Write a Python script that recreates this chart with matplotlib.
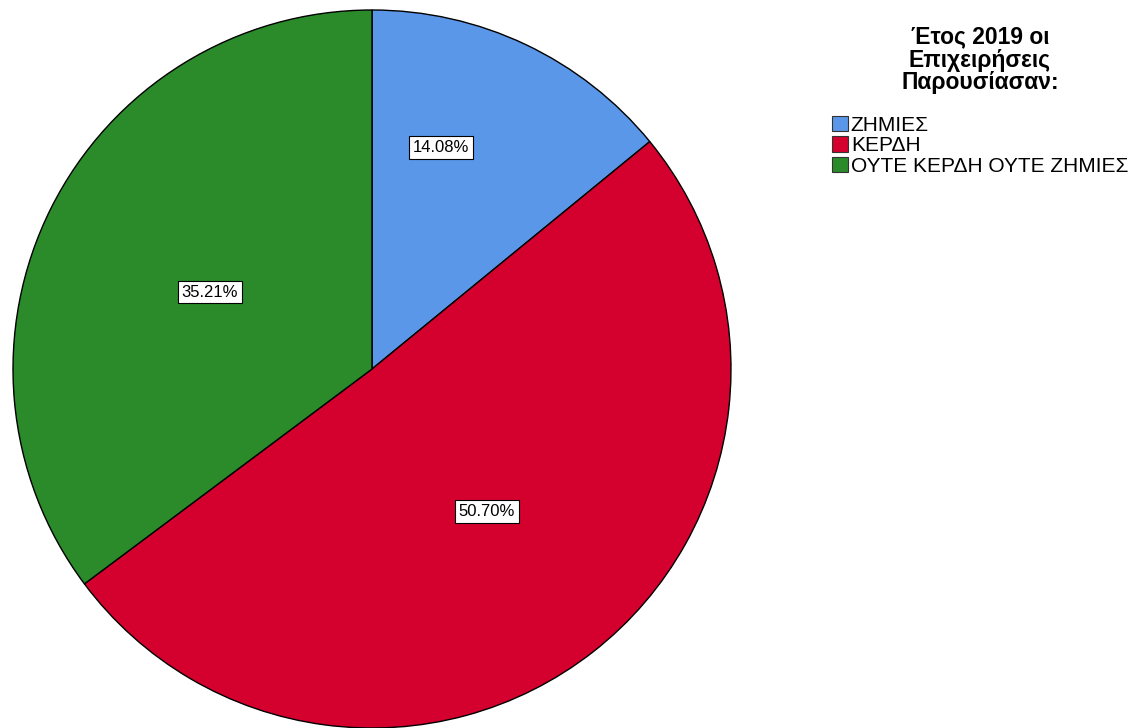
import matplotlib
matplotlib.use("Agg")
import matplotlib.pyplot as plt
from matplotlib.patches import Patch
import numpy as np

plt.rcParams['font.family'] = ['Liberation Sans', 'DejaVu Sans']

categories = ["ΖΗΜΙΕΣ", "ΚΕΡΔΗ", "ΟΥΤΕ ΚΕΡΔΗ ΟΥΤΕ ΖΗΜΙΕΣ"]
percents = [14.08, 50.70, 35.21]
colors = ["#5a97e8", "#d4002e", "#2b8a2a"]
legend_title = "Έτος 2019 οι\nΕπιχειρήσεις\nΠαρουσίασαν:"

# label placement: fraction of radius, and angular nudge (degrees) from the slice middle
label_dist = [0.646, 0.51, 0.50]
label_turn = [8.0, 0.8, 1.3]

fig = plt.figure(figsize=(11.4, 7.28), dpi=100)
ax = fig.add_axes([13 / 1140, 0.0, 718 / 1140, 718 / 728])

wedges, _ = ax.pie(percents, colors=colors, startangle=90, counterclock=False,
                   radius=1.0, wedgeprops=dict(edgecolor="black", linewidth=1.0))

for w, p, d, t in zip(wedges, percents, label_dist, label_turn):
    ang = np.deg2rad((w.theta1 + w.theta2) / 2 + t)
    ax.text(d * np.cos(ang), d * np.sin(ang), "%.2f%%" % p,
            ha="center", va="center", fontsize=12,
            bbox=dict(boxstyle="square,pad=0.22", facecolor="white",
                      edgecolor="black", linewidth=0.8))

ax.set_xlim(-1.0, 1.0)
ax.set_ylim(-1.0, 1.0)
ax.set_aspect("equal")
ax.axis("off")

# legend title drawn separately so the gap below it can match
fig.text(980 / 1140, 1 - 60 / 728, legend_title, ha="center", va="center",
         multialignment="center", fontsize=16.5, fontweight="bold",
         linespacing=1.0)

handles = [Patch(facecolor=c, edgecolor="#333333", linewidth=0.8) for c in colors]
leg = fig.legend(handles, categories, loc="upper left",
                 bbox_to_anchor=(830 / 1140, 1 - 114 / 728), frameon=False,
                 fontsize=15, handlelength=0.75, handleheight=0.75,
                 handletextpad=0.15, labelspacing=0.06, borderpad=0.1,
                 borderaxespad=0.0)

fig.savefig("out.png", dpi=100)
